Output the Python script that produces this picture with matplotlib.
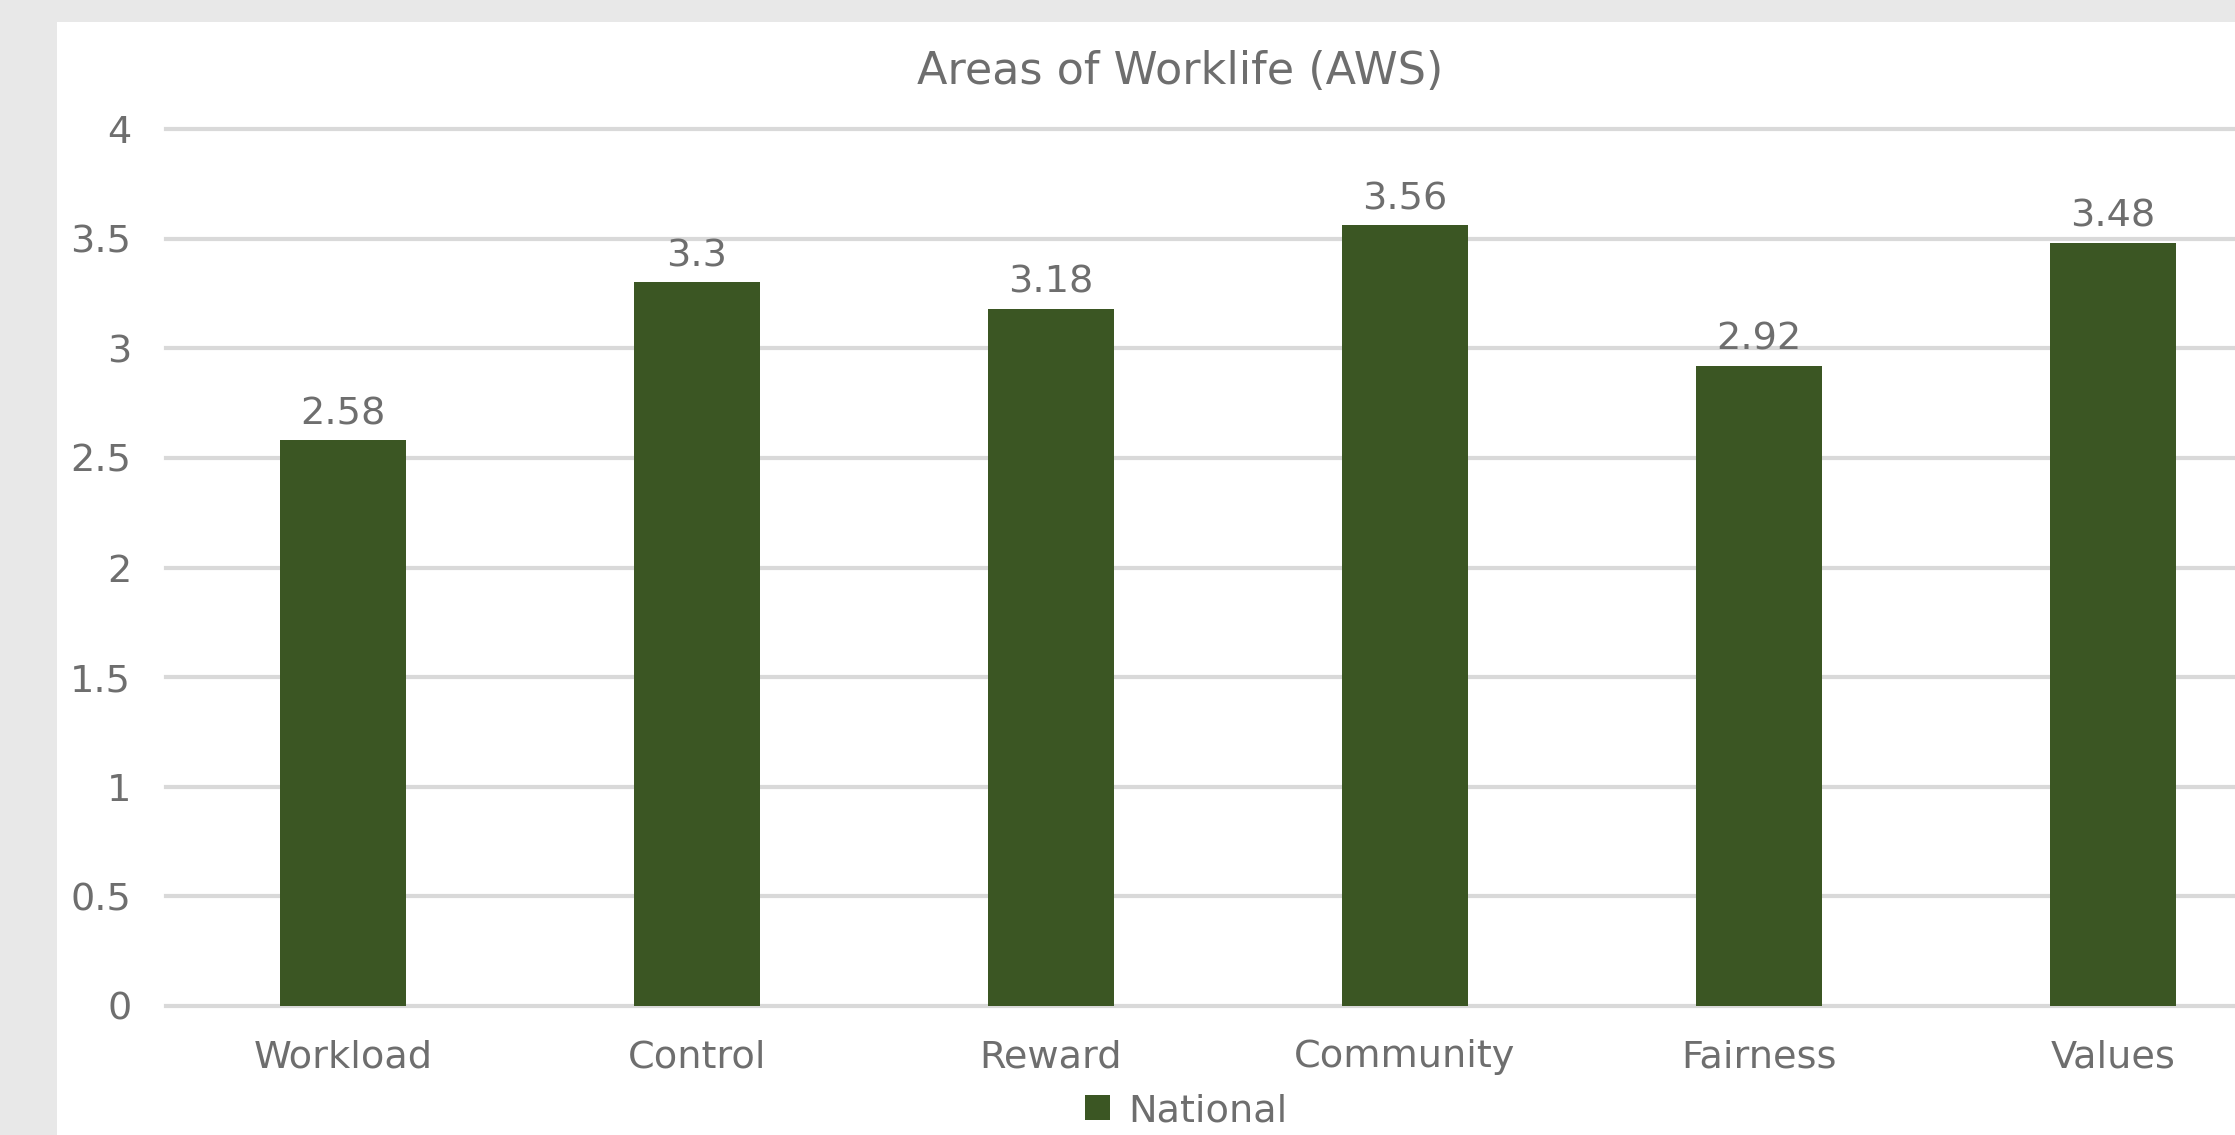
import matplotlib
matplotlib.use("Agg")
from matplotlib import pyplot as plt
from matplotlib.patches import Rectangle
import numpy as np

categories = ["Workload", "Control", "Reward", "Community", "Fairness", "Values"]
national = [2.58, 3.3, 3.18, 3.56, 2.92, 3.48]
yticks = [0, 0.5, 1, 1.5, 2, 2.5, 3, 3.5, 4]
ytick_labels = ["0", "0.5", "1", "1.5", "2", "2.5", "3", "3.5", "4"]

green = "#3b5623"
grey_text = "#6e6e6e"
W, H = 2235, 1135

fig = plt.figure(figsize=(W / 100, H / 100), dpi=100, facecolor="#e8e8e8")
# white chart area, the outer frame is light grey
fig.patches.append(Rectangle((57 / W, 0), 1, 1 - 22 / H, transform=fig.transFigure,
                             facecolor="white", edgecolor="none", zorder=-5))

# axes run past the right edge, like the cropped original
left = 166 / W
right = 2290 / W
bottom = 1 - 1006 / H
top = 1 - 129 / H
ax = fig.add_axes([left, bottom, right - left, top - bottom])
ax.set_facecolor("none")

x = np.arange(len(categories))
bars = ax.bar(x, national, width=0.356, color=green, zorder=3, label="National")
ax.bar_label(bars, labels=[f"{v:g}" for v in national], padding=6,
             fontsize=27.5, color=grey_text)

ax.set_xlim(-0.5, len(categories) - 0.5)
ax.set_ylim(0, 4)
ax.set_yticks(yticks)
ax.set_yticklabels(ytick_labels)
ax.set_xticks(x)
ax.set_xticklabels(categories)
ax.tick_params(axis="both", length=0, labelsize=27.5, labelcolor=grey_text)
ax.tick_params(axis="y", pad=25)
ax.tick_params(axis="x", pad=24)
ax.grid(axis="y", color="#d9d9d9", linewidth=3, zorder=0)
for gl in ax.get_ygridlines():
    gl.set_clip_on(False)
for s in ax.spines.values():
    s.set_visible(False)

fig.text(1180 / W, 1 - 71 / H, "Areas of Worklife (AWS)", ha="center", va="center",
         fontsize=32, color=grey_text)

fig.legend(handles=[bars], labels=["National"], loc="center",
           bbox_to_anchor=(1186 / W, 1 - 1111 / H), frameon=False, fontsize=27.5,
           labelcolor=grey_text, handlelength=0.66, handleheight=0.66, handletextpad=0.47,
           borderpad=0.1)

fig.savefig("out.png", dpi=100, facecolor=fig.get_facecolor())
